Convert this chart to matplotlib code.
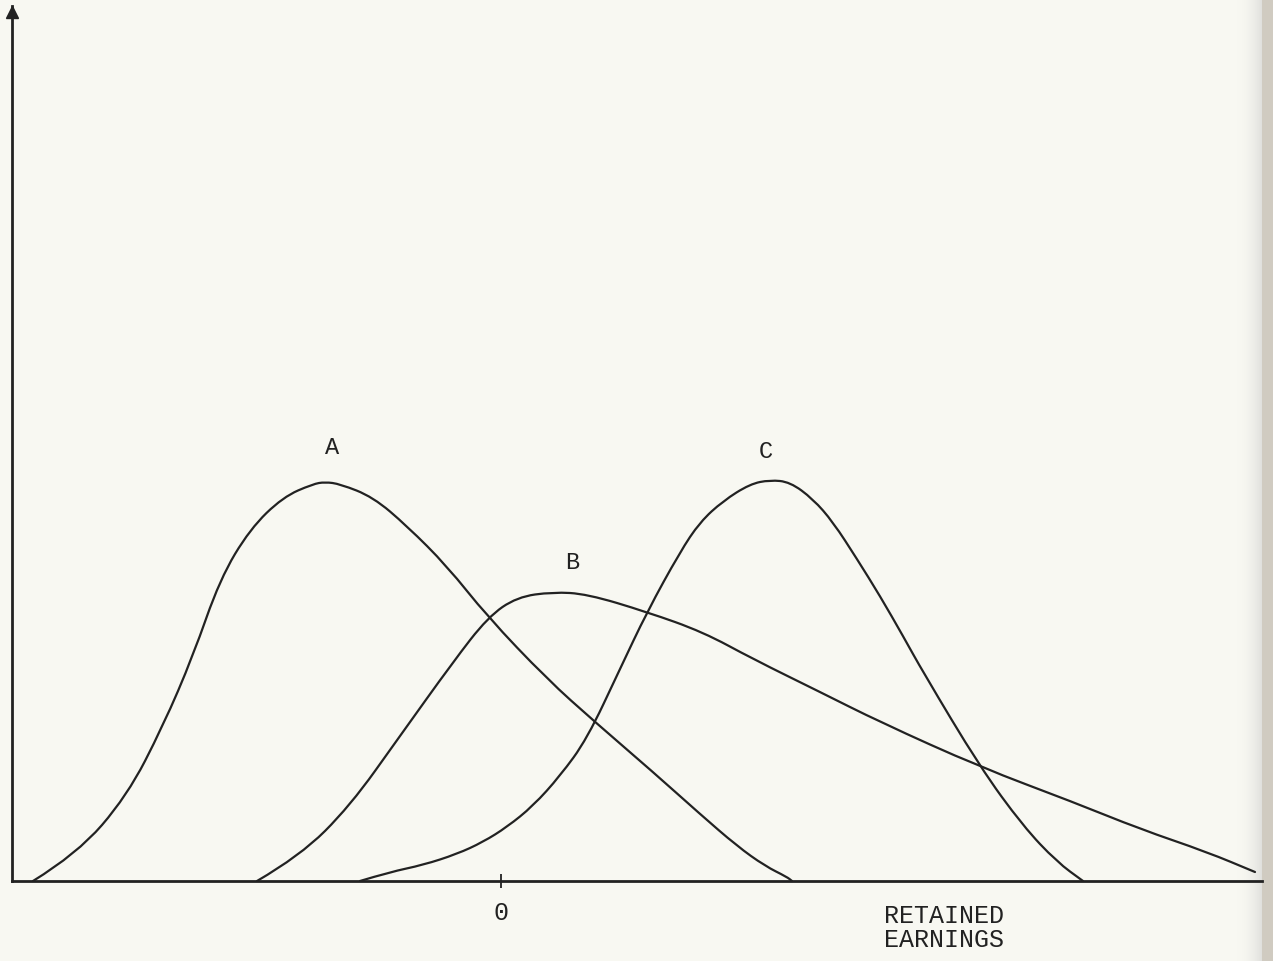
import matplotlib
matplotlib.use('Agg')
import matplotlib.pyplot as plt
from matplotlib.path import Path
from matplotlib.patches import PathPatch
import numpy as np

# curve points (x = retained earnings, y = frequency)
a_x = [-468, -424, -374, -338, -308, -281, -251, -218, -188, -176, -161, -128, -94, -54, -14, 46, 94, 152, 199, 236, 264, 286, 291]
a_y = [0, 27, 85, 155, 225, 302, 352, 384, 397, 399, 397, 384, 355, 315, 265, 202, 159, 109, 67, 35, 15, 4, 0]

b_x = [-244, -201, -151, -101, -48, -13, 16, 52, 86, 146, 202, 252, 319, 379, 479, 572, 639, 706, 754]
b_y = [0, 25, 75, 145, 219, 264, 284, 289, 287, 269, 249, 222, 189, 159, 114, 79, 52, 29, 9]

c_x = [-141, -111, -78, -44, -18, 6, 32, 59, 86, 119, 146, 179, 199, 222, 249, 269, 289, 312, 332, 356, 379, 402, 422, 479, 522, 556, 582]
c_y = [0, 9, 16, 27, 39, 54, 75, 105, 142, 212, 269, 329, 359, 380, 397, 401, 399, 382, 359, 322, 285, 245, 209, 114, 55, 19, 0]

labels = ['A', 'B', 'C']
label_pos = [(-169, 434), (71, 319), (265, 430)]
x_ticks = [0]
x_ticklabels = ['0']

mono = 'Liberation Mono'
ink = '#222222'
paper = '#f8f8f2'


def smooth_curve(xs, ys):
    # quadratic bezier through the read points so the pen line looks drawn
    verts = [(xs[0], ys[0])]
    codes = [Path.MOVETO]
    for i in range(1, len(xs) - 1):
        verts.append((xs[i], ys[i]))
        verts.append(((xs[i] + xs[i + 1]) / 2, (ys[i] + ys[i + 1]) / 2))
        codes += [Path.CURVE3, Path.CURVE3]
    verts.append((xs[-1], ys[-1]))
    codes.append(Path.LINETO)
    return Path(verts, codes)


fig = plt.figure(figsize=(12.73, 9.62), dpi=100)
fig.patch.set_facecolor(paper)

# grey scanner edge on the right (behind the chart)
edge = fig.add_axes([1236 / 1273, 0, 37 / 1273, 1])
grad = np.linspace(0, 1, 37) ** 2
img = np.ones((2, 37, 3))
for k, c in enumerate([248, 248, 242]):
    img[:, :, k] = (c - grad * (c - 200)) / 255.0
img[:, 26:, :] = np.array([208, 203, 193]) / 255.0
edge.imshow(img, aspect='auto', extent=(0, 1, 0, 1))
edge.axis('off')

# axes box placed like the scan: y axis at px 12, x axis at px 882
ax = fig.add_axes([12 / 1273, 80 / 962, 1250 / 1273, 875 / 962])
ax.set_facecolor('none')
ax.set_xlim(-489, 761)
ax.set_ylim(0, 875)

for xs, ys in [(a_x, a_y), (b_x, b_y), (c_x, c_y)]:
    ax.add_patch(PathPatch(smooth_curve(xs, ys), facecolor='none', edgecolor=ink,
                           lw=1.6, joinstyle='round', capstyle='round', clip_on=False))

for lab, (lx, ly) in zip(labels, label_pos):
    ax.text(lx, ly, lab, ha='center', va='center', fontsize=17, family=mono, color=ink)

ax.spines['top'].set_visible(False)
ax.spines['right'].set_visible(False)
ax.spines['left'].set_linewidth(2)
ax.spines['bottom'].set_linewidth(2)
ax.spines['left'].set_color(ink)
ax.spines['bottom'].set_color(ink)

ax.set_yticks([])
ax.set_xticks(x_ticks)
ax.set_xticklabels(x_ticklabels, family=mono, fontsize=18, color=ink)
ax.tick_params(axis='x', direction='inout', length=10, width=1.3, color=ink, pad=9)

# arrow head on the y axis
ax.plot(0, 0.993, marker='^', ms=8, color=ink, transform=ax.transAxes, clip_on=False)

ax.text(383, -22, 'RETAINED\nEARNINGS', ha='left', va='top', fontsize=18,
        family=mono, color=ink, linespacing=1.0)

fig.savefig('out.png', dpi=100, facecolor=paper)
